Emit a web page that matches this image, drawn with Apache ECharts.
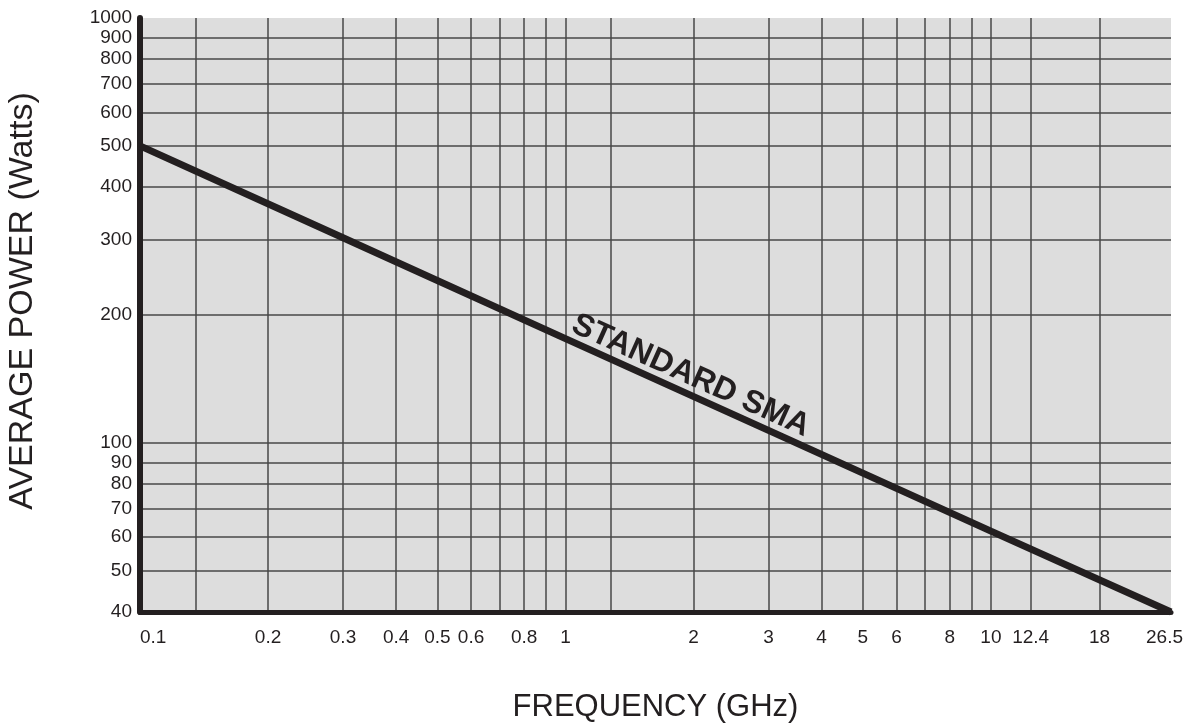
<!DOCTYPE html>
<html><head><meta charset="utf-8">
<script src="https://cdn.jsdelivr.net/npm/echarts@6/dist/echarts.min.js"></script>
<style>html,body{margin:0;padding:0;background:#fff}#c{width:1186px;height:725px}</style>
</head><body><div id="c"></div>
<script>
// ---- data ----
const freqGHz = [0.1, 0.3, 1, 3, 10, 26.5];
const powerW  = [500, 304, 176, 107, 62, 40];
const xLabelValues = [0.1, 0.2, 0.3, 0.4, 0.5, 0.6, 0.8, 1, 2, 3, 4, 5, 6, 8, 10, 12.4, 18, 26.5];
const xGridValues  = [0.135, 0.2, 0.3, 0.4, 0.5, 0.6, 0.7, 0.8, 0.9, 1, 1.28, 2, 3, 4, 5, 6, 7, 8, 9, 10, 12.4, 18];
const yLabelValues = [40, 50, 60, 70, 80, 90, 100, 200, 300, 400, 500, 600, 700, 800, 900, 1000];
const yGridValues  = [50, 60, 70, 80, 90, 100, 200, 300, 400, 500, 600, 700, 800, 900];
const xRange = [0.1, 26.5];
const yRange = [40, 1000];
const seriesName = 'STANDARD SMA';
const seriesLabelAt = [1.97, 144]; // GHz, W

const lg = Math.log10;
function nearest(arr, v) {
  let best = arr[0];
  for (const a of arr) if (Math.abs(lg(a) - v) < Math.abs(lg(best) - v)) best = a;
  return best;
}
const ink = '#231f20';
const font = 'Liberation Sans, Arial, sans-serif';
const lastX = xLabelValues[xLabelValues.length - 1];

const chart = echarts.init(document.getElementById('c'), null, {renderer: 'canvas'});
chart.setOption({
  animation: false,
  backgroundColor: '#ffffff',
  grid: {
    left: 140, right: 15, top: 18, bottom: 113,
    show: true, backgroundColor: '#dddddd', borderWidth: 0,
    containLabel: false, outerBoundsMode: 'none'
  },
  xAxis: {
    type: 'value',
    min: lg(xRange[0]), max: lg(xRange[1]),
    name: 'FREQUENCY (GHz)', nameLocation: 'middle', nameGap: 80,
    nameTextStyle: {fontSize: 31, color: ink, fontFamily: font},
    axisLine: {show: true, onZero: false, lineStyle: {color: ink, width: 5}},
    axisTick: {show: false, customValues: xGridValues.map(lg)},
    splitLine: {show: true, lineStyle: {color: '#474747', width: 1.5}},
    axisLabel: {
      customValues: xLabelValues.map(lg),
      margin: 16, fontSize: 19, color: ink, fontFamily: font,
      alignMinLabel: 'left',
      formatter: v => {
        const n = nearest(xLabelValues, v);
        return n === lastX ? '{e|' + n + '}' : String(n);
      },
      rich: {e: {width: 50, align: 'left', fontSize: 19, color: ink, fontFamily: font}}
    }
  },
  yAxis: {
    type: 'value',
    min: lg(yRange[0]), max: lg(yRange[1]),
    name: 'AVERAGE POWER (Watts)', nameLocation: 'middle', nameGap: 100,
    nameTextStyle: {fontSize: 34, color: ink, fontFamily: font, padding: [0, 0, 0, 28]},
    axisLine: {show: true, onZero: false, lineStyle: {color: ink, width: 6}},
    axisTick: {show: false, customValues: yGridValues.map(lg)},
    splitLine: {show: true, lineStyle: {color: '#474747', width: 1.5}},
    axisLabel: {
      customValues: yLabelValues.map(lg),
      margin: 8, fontSize: 19, color: ink, fontFamily: font,
      formatter: v => String(nearest(yLabelValues, v))
    }
  },
  series: [{
    name: seriesName,
    type: 'line',
    data: freqGHz.map((f, i) => [lg(f), lg(powerW[i])]),
    showSymbol: false,
    clip: false,
    lineStyle: {color: ink, width: 7},
    markPoint: {
      symbol: 'circle', symbolSize: 0,
      data: [{coord: [lg(seriesLabelAt[0]), lg(seriesLabelAt[1])]}],
      label: {
        show: true, position: 'inside', formatter: seriesName,
        rotate: -24.2, fontSize: 32, fontWeight: 'bold', color: ink, fontFamily: font
      }
    }
  }]
});
</script></body></html>
